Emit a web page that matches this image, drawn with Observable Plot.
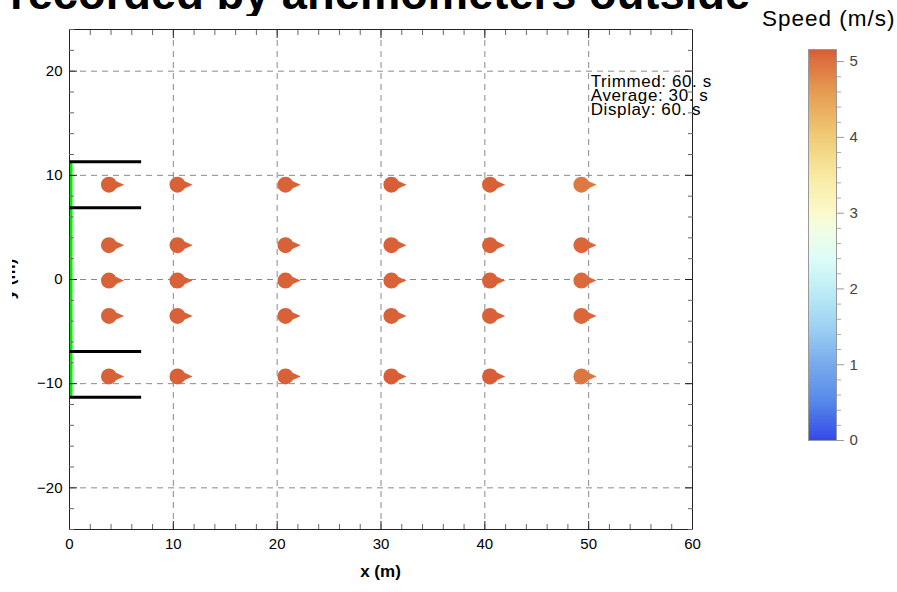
<!DOCTYPE html>
<html><head><meta charset="utf-8">
<script src="https://cdn.jsdelivr.net/npm/d3@7"></script>
<script src="https://cdn.jsdelivr.net/npm/@observablehq/plot@0.6"></script>
<style>
body{margin:0;background:#fff;font-family:"Liberation Sans",Arial,sans-serif;}
#wrap{position:relative;width:897px;height:592px;overflow:hidden;}
#main{position:absolute;left:0;top:0;}
#title{position:absolute;left:10px;top:-29px;width:742px;overflow:hidden;white-space:nowrap;font-weight:bold;font-size:45.3px;line-height:45px;color:#000;}
#legtitle{position:absolute;left:762px;top:8px;white-space:nowrap;font-size:22.5px;line-height:22px;letter-spacing:1px;color:#000;}
#legend{position:absolute;left:790px;top:30px;}
</style></head>
<body><div id="wrap"><div id="main"></div><div id="title">recorded by anemometers outside</div><div id="legtitle">Speed (m/s)</div><div id="legend"></div></div>
<script>
// ---- data ----
const stationX = [3.8, 10.4, 20.8, 31.0, 40.5, 49.3];
const stationY = [9.1, 3.3, -0.1, -3.5, -9.3];
// speed[i][j] : station at stationX[i], stationY[j]  (m/s)
const speed = [
  [5.12, 5.10, 5.12, 5.10, 5.12],
  [5.12, 5.12, 5.12, 5.12, 5.12],
  [5.10, 5.12, 5.10, 5.12, 5.12],
  [5.14, 5.12, 5.10, 5.12, 5.14],
  [5.12, 5.12, 5.12, 5.12, 5.14],
  [4.92, 5.08, 5.06, 5.08, 4.95]
];
const barrierY = [11.3, 6.9, -6.9, -11.3];
const barrierEnd = 6.9;
const inletY = [-11.3, 11.3];
const xTicks = [0, 10, 20, 30, 40, 50, 60];
const yTicks = [-20, -10, 0, 10, 20];
const infoLines = ["Trimmed: 60. s", "Average: 30. s", "Display: 60. s"];
const colorStops = [0, 0.5, 1, 1.5, 2, 2.4, 2.8, 3, 3.5, 4, 4.5, 5, 5.16];
const colorRange = ["#3449e8", "#5688ea", "#78aaec", "#9dd2f2", "#bfeef6", "#ddfcf8", "#f2fde0", "#fcf9cb", "#f8e9a0", "#efcb76", "#e7a456", "#dd7140", "#d65b34"];
const legendTicks = [0, 1, 2, 3, 4, 5];

// ---- derived tables ----
const stations = stationX.flatMap((x, i) => stationY.map((y, j) => ({x, y, s: speed[i][j]})));
const barriers = barrierY.map(y => ({y, x1: 0, x2: barrierEnd}));
const minorX = d3.range(0, 61, 2).filter(v => v % 10 !== 0);
const minorY = d3.range(-24, 25, 2).filter(v => v % 10 !== 0);
const fmt = d => d < 0 ? "\u2212" + (-d) : String(d);

const colorCfg = {type: "linear", domain: colorStops, range: colorRange, interpolate: "rgb"};

// teardrop wind symbol pointing in +x direction
const windSymbol = {
  draw(context, size) {
    const r = Math.sqrt(size / Math.PI);
    context.moveTo(r, 0);
    context.arc(0, 0, r, 0, 2 * Math.PI);
    context.moveTo(0, -0.85 * r);
    context.lineTo(1.9 * r, 0);
    context.lineTo(0, 0.85 * r);
    context.closePath();
  }
};

const font = "'Liberation Sans', Arial, sans-serif";
const major = "#222", minor = "#666";

const main = Plot.plot({
  width: 760, height: 592,
  marginLeft: 69, marginRight: 68, marginTop: 29, marginBottom: 63,
  style: {fontFamily: font, fontSize: "15px", color: "#000", background: "transparent", overflow: "visible"},
  x: {domain: [0, 60], label: null},
  y: {domain: [-24, 24], label: null},
  color: colorCfg,
  marks: [
    Plot.gridX(xTicks.slice(1, -1), {stroke: "#8a8a8a", strokeOpacity: 1, strokeDasharray: "6,5"}),
    Plot.gridY(yTicks, {stroke: "#8a8a8a", strokeOpacity: 1, strokeDasharray: "6,5"}),
    Plot.ruleX([0], {y1: inletY[0], y2: inletY[1], stroke: "#00ee00", strokeWidth: 3, dx: 1.5}),
    Plot.link(barriers, {x1: "x1", x2: "x2", y1: "y", y2: "y", stroke: "#000", strokeWidth: 3}),
    Plot.dot(stations, {x: "x", y: "y", fill: "s", stroke: "none", r: 8, symbol: windSymbol}),
    Plot.text([infoLines.join("\n")], {x: 50.2, y: 19.4, text: d => d, textAnchor: "start", lineAnchor: "top", lineHeight: 0.82, fontSize: 17, fill: "#000"}),
    Plot.frame({stroke: major}),
    Plot.axisX(xTicks, {anchor: "bottom", tickSize: 0, tickPadding: 9, tickFormat: fmt, label: null}),
    Plot.axisX(xTicks, {anchor: "bottom", tickSize: -8, text: null, stroke: major, label: null}),
    Plot.axisX(xTicks, {anchor: "top", tickSize: -8, text: null, stroke: major, label: null}),
    Plot.axisX(minorX, {anchor: "bottom", tickSize: -5, text: null, stroke: minor, label: null}),
    Plot.axisX(minorX, {anchor: "top", tickSize: -5, text: null, stroke: minor, label: null}),
    Plot.axisY(yTicks, {anchor: "left", tickSize: 0, tickPadding: 7, tickFormat: fmt, label: null}),
    Plot.axisY(yTicks, {anchor: "left", tickSize: -8, text: null, stroke: major, label: null}),
    Plot.axisY(yTicks, {anchor: "right", tickSize: -8, text: null, stroke: major, label: null}),
    Plot.axisY(minorY, {anchor: "left", tickSize: -5, text: null, stroke: minor, label: null}),
    Plot.axisY(minorY, {anchor: "right", tickSize: -5, text: null, stroke: minor, label: null})
  ]
});
document.getElementById("main").append(main);
const svg = d3.select(main);
svg.append("text").attr("x", 380.5).attr("y", 577).attr("text-anchor", "middle")
  .style("font-family", font).style("font-weight", "bold").style("font-size", "17px").text("x (m)");
// y label: as in the reference, mostly cut off at the left edge of the graphic
svg.append("defs").append("clipPath").attr("id", "ylabclip")
  .append("rect").attr("x", 12).attr("y", 200).attr("width", 20).attr("height", 160);
svg.append("g").attr("clip-path", "url(#ylabclip)")
  .append("text").attr("transform", "translate(15,279) rotate(-90)").attr("text-anchor", "middle")
  .style("font-family", font).style("font-weight", "bold").style("font-size", "17px").text("y (m)");
svg.selectAll("g[aria-label='text'] text").style("letter-spacing", "0.6px");

// ---- colour legend ----
const steps = d3.range(0, 5.16, 0.02);
const legend = Plot.plot({
  width: 107, height: 422,
  marginLeft: 18, marginRight: 61, marginTop: 19, marginBottom: 12,
  style: {fontFamily: font, fontSize: "15px", background: "transparent", overflow: "visible"},
  x: {domain: [0, 1], axis: null},
  y: {domain: [0, 5.16], label: null},
  color: colorCfg,
  marks: [
    Plot.rect(steps, {x1: 0, x2: 1, y1: d => d, y2: d => Math.min(d + 0.03, 5.16), fill: d => d + 0.01}),
    Plot.frame({stroke: "#999"}),
    Plot.axisY(legendTicks, {anchor: "right", tickSize: 0, tickPadding: 13, tickFormat: d => String(d), fill: "#444", label: null}),
    Plot.axisY(legendTicks, {anchor: "right", tickSize: 7, text: null, stroke: "#999", label: null}),
    Plot.axisY(d3.range(0, 5.2, 0.2).filter(v => Math.abs(v - Math.round(v)) > 1e-6), {anchor: "right", tickSize: 4, text: null, stroke: "#aaa", label: null})
  ]
});
document.getElementById("legend").append(legend);
</script></body></html>
